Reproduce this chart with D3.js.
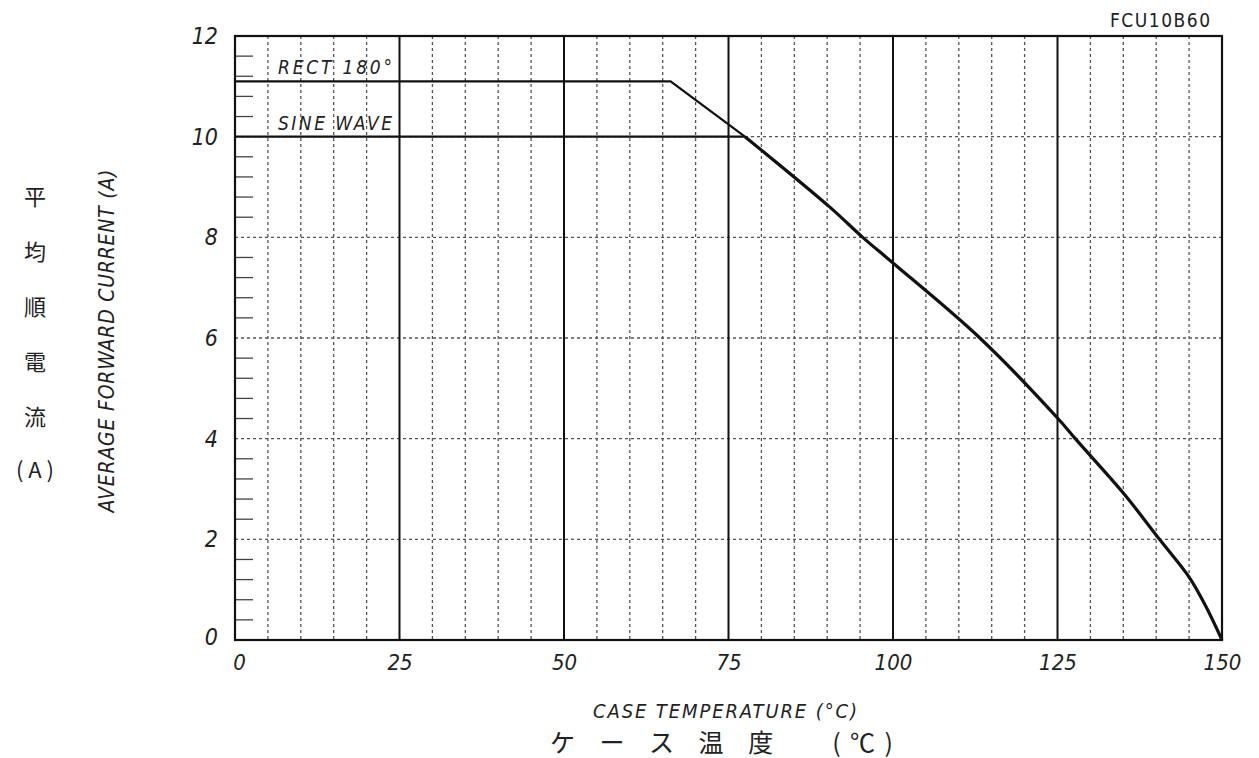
<!DOCTYPE html>
<html><head><meta charset="utf-8">
<script src="https://cdn.jsdelivr.net/npm/d3@7/dist/d3.min.js"></script>
<style>
body{margin:0;background:#fff;}
svg{display:block;}
.num{font-family:"DejaVu Sans Condensed","DejaVu Sans",sans-serif;font-stretch:condensed;font-style:italic;fill:#222;}
.jp{font-family:"Noto Sans CJK JP",sans-serif;fill:#222;}
</style></head>
<body>
<svg id="c" width="1259" height="758"></svg>
<script>
// ---- data ----
const xTicks = [0, 25, 50, 75, 100, 125, 150];
const yTicks = [0, 2, 4, 6, 8, 10, 12];
// RECT 180° derating curve (case temperature °C, average forward current A)
const rectTemp    = [0, 66.2, 77.5, 90.4, 95.4, 100, 113.2, 125, 127.7, 135, 140.5, 145, 147.5, 150];
const rectCurrent = [11.1, 11.1, 10.0, 8.6, 8.0, 7.49, 6.0, 4.41, 4.0, 2.92, 2.0, 1.25, 0.68, 0];
// SINE WAVE plateau (joins the same curve)
const sineTemp    = [0, 77.5];
const sineCurrent = [10, 10];
const seriesLabels = ["RECT 180°", "SINE WAVE"];
const title = "FCU10B60";

// ---- layout ----
const svg = d3.select("#c");
const x = d3.scaleLinear().domain([0, 150]).range([235, 1222]);
const y = d3.scaleLinear().domain([0, 12]).range([640, 36]);
const g = svg.append("g");

// dashed minor grid
const xMinor = d3.range(5, 150, 5).filter(v => v % 25 !== 0);
g.selectAll(".vx").data(xMinor).enter().append("line")
  .attr("x1", d => x(d)).attr("x2", d => x(d)).attr("y1", y(12)).attr("y2", y(0))
  .attr("stroke", "#555").attr("stroke-width", 1.3).attr("stroke-dasharray", "3,3");
g.selectAll(".hy").data([2, 4, 6, 8, 10]).enter().append("line")
  .attr("x1", x(0)).attr("x2", x(150)).attr("y1", d => y(d)).attr("y2", d => y(d))
  .attr("stroke", "#555").attr("stroke-width", 1.3).attr("stroke-dasharray", "3,3");
// solid major verticals
g.selectAll(".vm").data([25, 50, 75, 100, 125]).enter().append("line")
  .attr("x1", d => x(d)).attr("x2", d => x(d)).attr("y1", y(12)).attr("y2", y(0))
  .attr("stroke", "#111").attr("stroke-width", 2);
// minor ticks on left edge
const yMinor = d3.range(0.4, 12, 0.4).filter(v => Math.abs(v / 2 - Math.round(v / 2)) > 0.01);
g.selectAll(".mt").data(yMinor).enter().append("line")
  .attr("x1", x(0)).attr("x2", x(0) + 18).attr("y1", d => y(d)).attr("y2", d => y(d))
  .attr("stroke", "#444").attr("stroke-width", 1.3);
// frame
g.append("rect").attr("x", x(0)).attr("y", y(12)).attr("width", x(150) - x(0)).attr("height", y(0) - y(12))
  .attr("fill", "none").attr("stroke", "#111").attr("stroke-width", 2.2);

// curves
const line = d3.line().x(d => x(d[0])).y(d => y(d[1]));
const sineData = d3.zip(sineTemp, sineCurrent);
const rectData = d3.zip(rectTemp, rectCurrent);
g.append("path").datum(sineData).attr("d", line).attr("fill", "none").attr("stroke", "#111").attr("stroke-width", 2.2);
g.append("path").datum(rectData.slice(0, 3)).attr("d", line).attr("fill", "none").attr("stroke", "#111").attr("stroke-width", 2.2);
g.append("path").datum(rectData.slice(2)).attr("d", d3.line().x(d => x(d[0])).y(d => y(d[1])).curve(d3.curveCatmullRom.alpha(0.5)))
  .attr("fill", "none").attr("stroke", "#111").attr("stroke-width", 3.2);

// series labels
g.append("text").attr("class", "num").attr("x", 278).attr("y", y(11.1) - 7).attr("font-size", 19)
  .attr("textLength", 114).attr("lengthAdjust", "spacing").text(seriesLabels[0]);
g.append("text").attr("class", "num").attr("x", 278).attr("y", y(10) - 7).attr("font-size", 19)
  .attr("textLength", 114).attr("lengthAdjust", "spacing").text(seriesLabels[1]);

// axes labels (ticks)
const ax = d3.axisBottom(x).tickValues(xTicks).tickSize(0).tickPadding(0);
const axG = svg.append("g").attr("transform", "translate(0,654)").call(ax);
axG.select(".domain").remove();
axG.selectAll("text").attr("class", "num").attr("font-size", 22).attr("dy", "0.71em").attr("fill", "#222");
axG.selectAll(".tick").filter(d => d === 0).select("text").attr("dx", 4);

const ay = d3.axisLeft(y).tickValues(yTicks).tickSize(0).tickPadding(0);
const ayG = svg.append("g").attr("transform", "translate(218,0)").call(ay);
ayG.select(".domain").remove();
ayG.selectAll("text").attr("class", "num").attr("font-size", 23).attr("fill", "#222");
ayG.selectAll(".tick").filter(d => d === 0).select("text").attr("dy", "0.2em");

// titles
svg.append("text").attr("class", "num").attr("x", 725).attr("y", 718).attr("text-anchor", "middle")
  .attr("font-size", 20).attr("textLength", 264).attr("lengthAdjust", "spacing").text("CASE TEMPERATURE (°C)");
svg.append("text").attr("class", "jp").attr("x", 550).attr("y", 752).attr("font-size", 25)
  .attr("textLength", 343).attr("lengthAdjust", "spacing").text("ケ ー ス 温 度 　(℃)");
svg.append("text").attr("class", "num").attr("transform", "translate(114,341) rotate(-90)")
  .attr("text-anchor", "middle").attr("font-size", 21).attr("textLength", 343).attr("lengthAdjust", "spacing")
  .text("AVERAGE FORWARD CURRENT (A)");
const jpY = ["平", "均", "順", "電", "流"];
svg.selectAll(".jpy").data(jpY).enter().append("text").attr("class", "jp")
  .attr("x", 35).attr("y", (d, i) => 205 + i * 55).attr("text-anchor", "middle").attr("font-size", 22).text(d => d);
svg.append("text").attr("class", "jp").attr("x", 35).attr("y", 478).attr("text-anchor", "middle")
  .attr("font-size", 22).text("( A )");
svg.append("text").attr("x", 1210).attr("y", 27).attr("text-anchor", "end")
  .attr("font-family", "'DejaVu Sans Condensed','DejaVu Sans',sans-serif").attr("font-stretch", "condensed").attr("font-size", 19)
  .attr("fill", "#222").attr("textLength", 100).attr("lengthAdjust", "spacing").text(title);
</script>
</body></html>
